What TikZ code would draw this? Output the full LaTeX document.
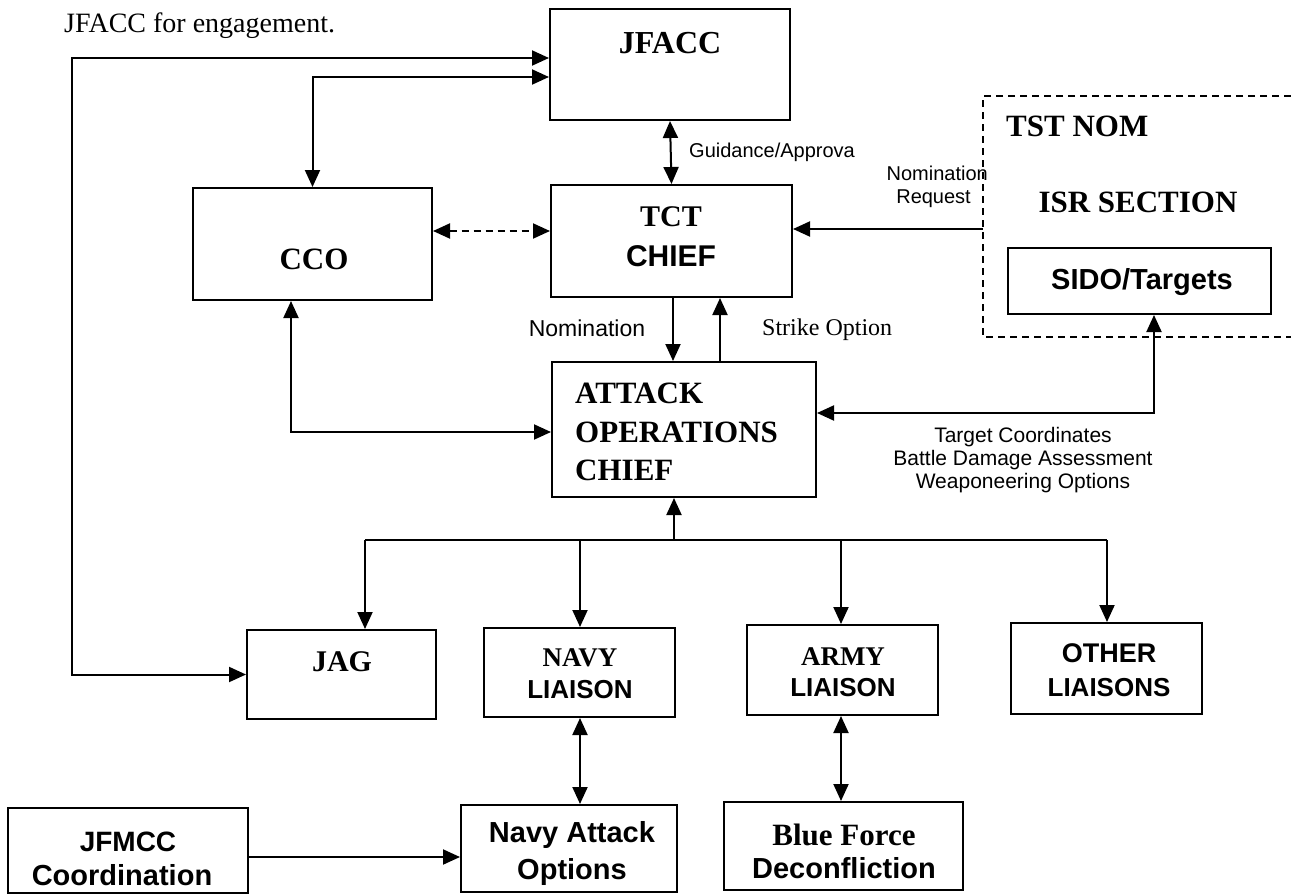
\documentclass[tikz,border=0pt]{standalone}
\usepackage{fontspec}
\setmainfont{Liberation Serif}
\setsansfont{Liberation Sans}
\usetikzlibrary{arrows.meta}
\begin{document}
\begin{tikzpicture}[x=1pt,y=-1pt,
  box/.style={draw,line width=2pt,inner sep=0pt},
  txt/.style={inner sep=0pt},
  tb/.style={txt,font=\fontsize{#1}{#1}\selectfont\bfseries},
  sb/.style={txt,font=\fontsize{#1}{#1}\selectfont\sffamily\bfseries},
  sl/.style={txt,font=\fontsize{#1}{#1}\selectfont\sffamily},
  oneway/.style={line width=2pt,-{Triangle[length=17pt,width=15pt]}},
  twoway/.style={line width=2pt,{Triangle[length=17pt,width=15pt]}-{Triangle[length=17pt,width=15pt]}},
  plain/.style={line width=2pt},
  dashline/.style={line width=1.6pt,dash pattern=on 7pt off 5pt}]
\useasboundingbox (0,0) rectangle (1291,894);

% header text
\node[txt,anchor=base west,font=\fontsize{28}{30}\selectfont] (hdr) at (64,32) {JFACC for engagement.};

% boxes
\node[box,minimum width=240pt,minimum height=111pt] (jfacc) at (670,64.5) {};
\node[box,minimum width=241pt,minimum height=112pt] (tct) at (671.5,241) {};
\node[box,minimum width=239pt,minimum height=112pt] (cco) at (312.5,244) {};
\node[box,minimum width=263pt,minimum height=66pt] (sido) at (1139.5,281) {};
\node[box,minimum width=264pt,minimum height=135pt] (attack) at (684,429.5) {};
\node[box,minimum width=189pt,minimum height=89pt] (jag) at (341.5,674.5) {};
\node[box,minimum width=191pt,minimum height=89pt] (navy) at (579.5,672.5) {};
\node[box,minimum width=191pt,minimum height=90pt] (army) at (842.5,670) {};
\node[box,minimum width=191pt,minimum height=91pt] (other) at (1106.5,668.5) {};
\node[box,minimum width=240pt,minimum height=85pt] (jfmcc) at (127.5,850.5) {};
\node[box,minimum width=216pt,minimum height=87pt] (navyatk) at (569,848.5) {};
\node[box,minimum width=239pt,minimum height=88pt] (blue) at (843.5,846) {};

% box texts
\node[tb=32] (tjfacc) at (670,43) {JFACC};
\node[tb=30] (ttct) at (671,217) {TCT};
\node[sb=30] (tchief) at (671,256) {CHIEF};
\node[tb=31] (tcco) at (314,259) {CCO};
\node[tb=31,anchor=west] (ttst) at (1006,126) {TST NOM};
\node[tb=31] (tisr) at (1138,202) {ISR SECTION};
\node[sb=29] (tsido) at (1142,282) {SIDO/Targets};
\node[tb=31,anchor=west] (tatk1) at (575,393) {ATTACK};
\node[tb=31,anchor=west] (tatk2) at (575,432) {OPERATIONS};
\node[tb=31,anchor=west] (tatk3) at (575,470) {CHIEF};
\node[tb=30] (tjag) at (342,662) {JAG};
\node[tb=27] (tnavy1) at (580,658) {NAVY};
\node[sb=26] (tnavy2) at (580,690) {LIAISON};
\node[tb=27] (tarmy1) at (843,657) {ARMY};
\node[sb=26] (tarmy2) at (843,688) {LIAISON};
\node[sb=27] (tother1) at (1109,653) {OTHER};
\node[sb=26] (tother2) at (1109,688) {LIAISONS};
\node[sb=28] (tjfmcc1) at (128,842) {JFMCC};
\node[sb=29] (tjfmcc2) at (122,875) {Coordination};
\node[sb=29] (tnatk1) at (572,835) {Navy Attack};
\node[sb=29] (tnatk2) at (572,872) {Options};
\node[tb=31] (tblue1) at (844,835) {Blue Force};
\node[sb=29] (tblue2) at (844,868) {Deconfliction};

% dashed group outline (open to the right)
\coordinate (dtl) at (983,96);
\coordinate (dbl) at (983,337);
\draw[dashline] (1291,96) -- (dtl) -- (dbl) -- (1291,337);

% connector labels
\node[sl=20,anchor=west] (lguid) at (689,152) {Guidance/Approva};
\node[sl=20,anchor=east] (lnom1) at (988,173) {Nomination};
\node[sl=20,anchor=east] (lnom2) at (971,199) {Request};
\node[sl=23] (lnom) at (587,328) {Nomination};
\node[txt,anchor=west,font=\fontsize{24}{24}\selectfont] (lstrike) at (762,330) {Strike Option};
\node[sl=21] (ltc1) at (1023,437) {Target Coordinates};
\node[sl=21] (ltc2) at (1023,460) {Battle Damage Assessment};
\node[sl=21] (ltc3) at (1023,483) {Weaponeering Options};

% connectors
\draw[twoway] (jfacc.west |- 0,58) -| (72,674.5) -- (jag.west);
\draw[twoway] (jfacc.west |- 0,77) -| (cco.north);
\draw[twoway,dash pattern=on 7pt off 5pt] (cco.east |- 0,231) -- (tct.west |- 0,231);
\draw[twoway] (jfacc.south) -- (tct.north);
\coordinate (nomsrc) at (983,229);
\draw[oneway] (nomsrc) -- (tct.east |- nomsrc);
\draw[oneway] (tct.south -| 673,0) -- (attack.north -| 673,0);
\draw[oneway] (attack.north -| 720,0) -- (tct.south -| 720,0);
\draw[twoway] (cco.south -| 291,0) |- (attack.west |- 0,432);
\draw[twoway] (sido.south -| 1154,0) |- (attack.east |- 0,413);

% bus
\coordinate (bus) at (674,540);
\coordinate (busl) at (365,540);
\coordinate (busr) at (1107,540);
\draw[oneway] (bus) -- (attack.south -| bus);
\draw[plain] (busl) -- (busr);
\draw[oneway] (busl) -- (jag.north -| busl);
\draw[oneway] (580,540) -- (navy.north -| 580,0);
\draw[oneway] (841,540) -- (army.north -| 841,0);
\draw[oneway] (busr) -- (other.north -| busr);

\draw[twoway] (navy.south -| 580,0) -- (navyatk.north -| 580,0);
\draw[twoway] (army.south -| 841,0) -- (blue.north -| 841,0);
\draw[oneway] (jfmcc.east |- 0,857) -- (navyatk.west |- 0,857);
\end{tikzpicture}
\end{document}
